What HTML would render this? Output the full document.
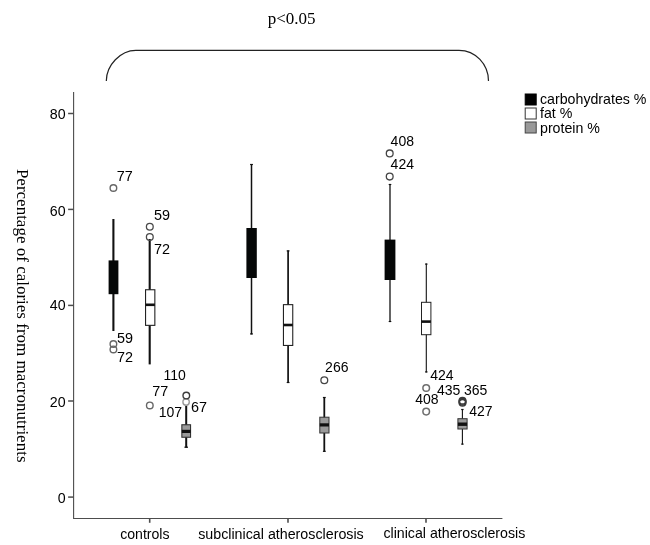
<!DOCTYPE html>
<html><head><meta charset="utf-8"><title>chart</title>
<style>html,body{margin:0;padding:0;background:#fff;}body{width:650px;height:545px;overflow:hidden;}svg{display:block;will-change:transform;opacity:0.999;}text{font-family:"Liberation Sans",sans-serif;font-size:14px;fill:#000;}.lab{font-size:14px;}.lc{font-size:14.4px;}.ser{font-family:"Liberation Serif",serif;font-size:17px;}.o{fill:none;stroke:#6a6a6a;stroke-width:1.5;}</style></head><body>
<svg width="650" height="545" viewBox="0 0 650 545">
<rect width="650" height="545" fill="#fff"/>
<text class="ser" x="267.7" y="23.6">p&lt;0.05</text>
<path d="M106.3,81 C106.3,65.2 120.5,50.3 135.8,50.3 L459,50.3 C475.5,50.3 488.5,64.3 488.5,81" fill="none" stroke="#222" stroke-width="1.2"/>
<text class="ser" style="font-size:17.6px" textLength="293.6" lengthAdjust="spacingAndGlyphs" transform="translate(17.0,168.9) rotate(90)">Percentage of calories from macronutrients</text>
<path d="M73.6,92 V518.5 H502.4" fill="none" stroke="#4d4d4d" stroke-width="1.1"/>
<path d="M68.1,113.5 H73.6" stroke="#4d4d4d" stroke-width="1.5"/>
<text x="65.6" y="118.6" text-anchor="end" style="font-size:14.2px">80</text>
<path d="M68.1,209.4 H73.6" stroke="#4d4d4d" stroke-width="1.5"/>
<text x="65.6" y="215.5" text-anchor="end" style="font-size:14.2px">60</text>
<path d="M68.1,305.4 H73.6" stroke="#4d4d4d" stroke-width="1.5"/>
<text x="65.6" y="309.7" text-anchor="end" style="font-size:14.2px">40</text>
<path d="M68.1,401.0 H73.6" stroke="#4d4d4d" stroke-width="1.5"/>
<text x="65.6" y="406.5" text-anchor="end" style="font-size:14.2px">20</text>
<path d="M68.1,497.1 H73.6" stroke="#4d4d4d" stroke-width="1.5"/>
<text x="65.6" y="503.0" text-anchor="end" style="font-size:14.2px">0</text>
<path d="M149.7,518.5 V522.8" stroke="#4d4d4d" stroke-width="1.6"/>
<path d="M288,518.5 V522.8" stroke="#4d4d4d" stroke-width="1.6"/>
<path d="M426,518.5 V522.8" stroke="#4d4d4d" stroke-width="1.6"/>
<text x="120.2" y="539.0" style="font-size:14.1px">controls</text>
<text x="198.2" y="538.9" style="font-size:14.25px">subclinical atherosclerosis</text>
<text x="383.4" y="537.8" style="font-size:14.2px">clinical atherosclerosis</text>
<rect x="525.2" y="94" width="11" height="11" fill="#000" stroke="#000" stroke-width="1"/>
<rect x="525.2" y="108" width="11" height="11" fill="#fff" stroke="#333" stroke-width="1"/>
<rect x="525.2" y="122" width="11" height="11" fill="#999" stroke="#444" stroke-width="1"/>
<text x="540" y="103.7" style="font-size:14.2px">carbohydrates %</text>
<text x="540" y="118.0" style="font-size:14.2px">fat %</text>
<text x="540" y="132.5" style="font-size:14.2px">protein %</text>
<path d="M113.4,219 V331" stroke="#111" stroke-width="2.1"/>
<rect x="108.6" y="260.4" width="9.8" height="33.8" fill="#050707"/>
<path d="M149.7,239 V364.4" stroke="#111" stroke-width="2.1"/>
<rect x="145.55" y="289.75" width="9.3" height="35.6" fill="#fff" stroke="#222" stroke-width="1.1"/>
<path d="M145.5,304.8 H154.9" stroke="#111" stroke-width="2.6"/>
<path d="M186.2,405.6 V447.7" stroke="#111" stroke-width="2.0"/>
<path d="M184.39999999999998,447.2 H188.0" stroke="#111" stroke-width="1.2"/>
<rect x="181.85000000000002" y="424.75" width="8.7" height="12.5" fill="#9a9a9a" stroke="#333" stroke-width="1.1"/>
<path d="M181.8,431.4 H190.6" stroke="#111" stroke-width="3.2"/>
<circle cx="113.4" cy="188" r="3.3" fill="none" stroke="#666" stroke-width="1.4"/>
<text class="lab lc" x="116.7" y="180.6">77</text>
<circle cx="113.4" cy="344" r="3.3" fill="none" stroke="#666" stroke-width="1.4"/>
<circle cx="113.4" cy="349.4" r="3.3" fill="none" stroke="#666" stroke-width="1.4"/>
<text class="lab lc" x="117.0" y="342.6">59</text>
<text class="lab lc" x="116.9" y="361.6">72</text>
<circle cx="149.8" cy="226.8" r="3.4" fill="none" stroke="#4a4a4a" stroke-width="1.3"/>
<circle cx="149.8" cy="237" r="3.4" fill="none" stroke="#4a4a4a" stroke-width="1.3"/>
<text class="lab lc" x="154.0" y="219.7">59</text>
<text class="lab lc" x="153.9" y="254">72</text>
<circle cx="149.8" cy="405.4" r="3.3" fill="none" stroke="#666" stroke-width="1.4"/>
<text class="lab lc" x="152.3" y="396.4">77</text>
<circle cx="186.1" cy="402.0" r="3.2" fill="none" stroke="#9a9a9a" stroke-width="1.4"/>
<circle cx="186.3" cy="395.6" r="3.3" fill="none" stroke="#3c3c3c" stroke-width="1.4"/>
<text class="lab" x="163.4" y="380">110</text>
<text class="lab" x="158.8" y="417">107</text>
<text class="lab lc" x="191.0" y="412">67</text>
<path d="M251.5,164 V334.4" stroke="#111" stroke-width="1.5"/>
<path d="M250.1,164.5 H252.9" stroke="#111" stroke-width="1.2"/>
<path d="M250.1,333.9 H252.9" stroke="#111" stroke-width="1.2"/>
<rect x="246.4" y="228" width="10.4" height="50.0" fill="#050707"/>
<path d="M288.1,250.4 V383" stroke="#111" stroke-width="1.7"/>
<path d="M286.70000000000005,250.9 H289.5" stroke="#111" stroke-width="1.2"/>
<path d="M286.70000000000005,382.5 H289.5" stroke="#111" stroke-width="1.2"/>
<rect x="283.45" y="304.65000000000003" width="9.3" height="40.8" fill="#fff" stroke="#222" stroke-width="1.1"/>
<path d="M283.4,325 H292.8" stroke="#111" stroke-width="2.6"/>
<path d="M324.3,397.0 V451.8" stroke="#111" stroke-width="1.8"/>
<path d="M322.90000000000003,397.5 H325.7" stroke="#111" stroke-width="1.2"/>
<path d="M322.90000000000003,451.3 H325.7" stroke="#111" stroke-width="1.2"/>
<rect x="319.8" y="417.2" width="9.2" height="15.8" fill="#9a9a9a" stroke="#333" stroke-width="1.0"/>
<path d="M319.8,424.9 H329.0" stroke="#111" stroke-width="3.2"/>
<circle cx="324.3" cy="380.2" r="3.4" fill="none" stroke="#454545" stroke-width="1.3"/>
<text class="lab" x="325.1" y="372">266</text>
<path d="M390,184 V322" stroke="#111" stroke-width="1.3"/>
<path d="M388.7,184.5 H391.3" stroke="#111" stroke-width="1.2"/>
<path d="M388.7,321.5 H391.3" stroke="#111" stroke-width="1.2"/>
<rect x="384.6" y="239.6" width="10.8" height="40.4" fill="#050707"/>
<path d="M426.3,263.6 V372.4" stroke="#111" stroke-width="1.1"/>
<path d="M425.1,264.1 H427.5" stroke="#111" stroke-width="1.2"/>
<path d="M425.1,371.9 H427.5" stroke="#111" stroke-width="1.2"/>
<rect x="421.5" y="302.3" width="9.4" height="32.4" fill="#fff" stroke="#222" stroke-width="1.0"/>
<path d="M421.5,321.6 H430.9" stroke="#111" stroke-width="2.6"/>
<path d="M462.4,409 V444.6" stroke="#111" stroke-width="1.1"/>
<path d="M461.2,409.5 H463.59999999999997" stroke="#111" stroke-width="1.2"/>
<path d="M461.2,444.1 H463.59999999999997" stroke="#111" stroke-width="1.2"/>
<rect x="457.9" y="418.7" width="9.2" height="10.3" fill="#9a9a9a" stroke="#333" stroke-width="1.0"/>
<path d="M457.9,424.2 H467.1" stroke="#111" stroke-width="3.4"/>
<circle cx="389.7" cy="153.4" r="3.4" fill="none" stroke="#454545" stroke-width="1.3"/>
<text class="lab" x="390.6" y="145.6">408</text>
<circle cx="389.7" cy="176.6" r="3.4" fill="none" stroke="#454545" stroke-width="1.3"/>
<text class="lab" x="390.6" y="168.6">424</text>
<circle cx="426.2" cy="388" r="3.3" fill="none" stroke="#6e6e6e" stroke-width="1.5"/>
<text class="lab" x="430.2" y="379.6">424</text>
<text class="lab" x="437.0" y="394.8">435</text>
<circle cx="426.2" cy="411.6" r="3.3" fill="none" stroke="#6e6e6e" stroke-width="1.5"/>
<text class="lab" x="415.2" y="403.6">408</text>
<circle cx="462.5" cy="400.8" r="3.3" fill="none" stroke="#3a3a3a" stroke-width="1.5"/>
<circle cx="462.5" cy="401.8" r="3.3" fill="none" stroke="#3a3a3a" stroke-width="1.5"/>
<circle cx="462.5" cy="402.8" r="3.3" fill="none" stroke="#3a3a3a" stroke-width="1.5"/>
<text class="lab" x="463.9" y="394.8">365</text>
<text class="lab" x="469.2" y="415.6">427</text>
</svg></body></html>
